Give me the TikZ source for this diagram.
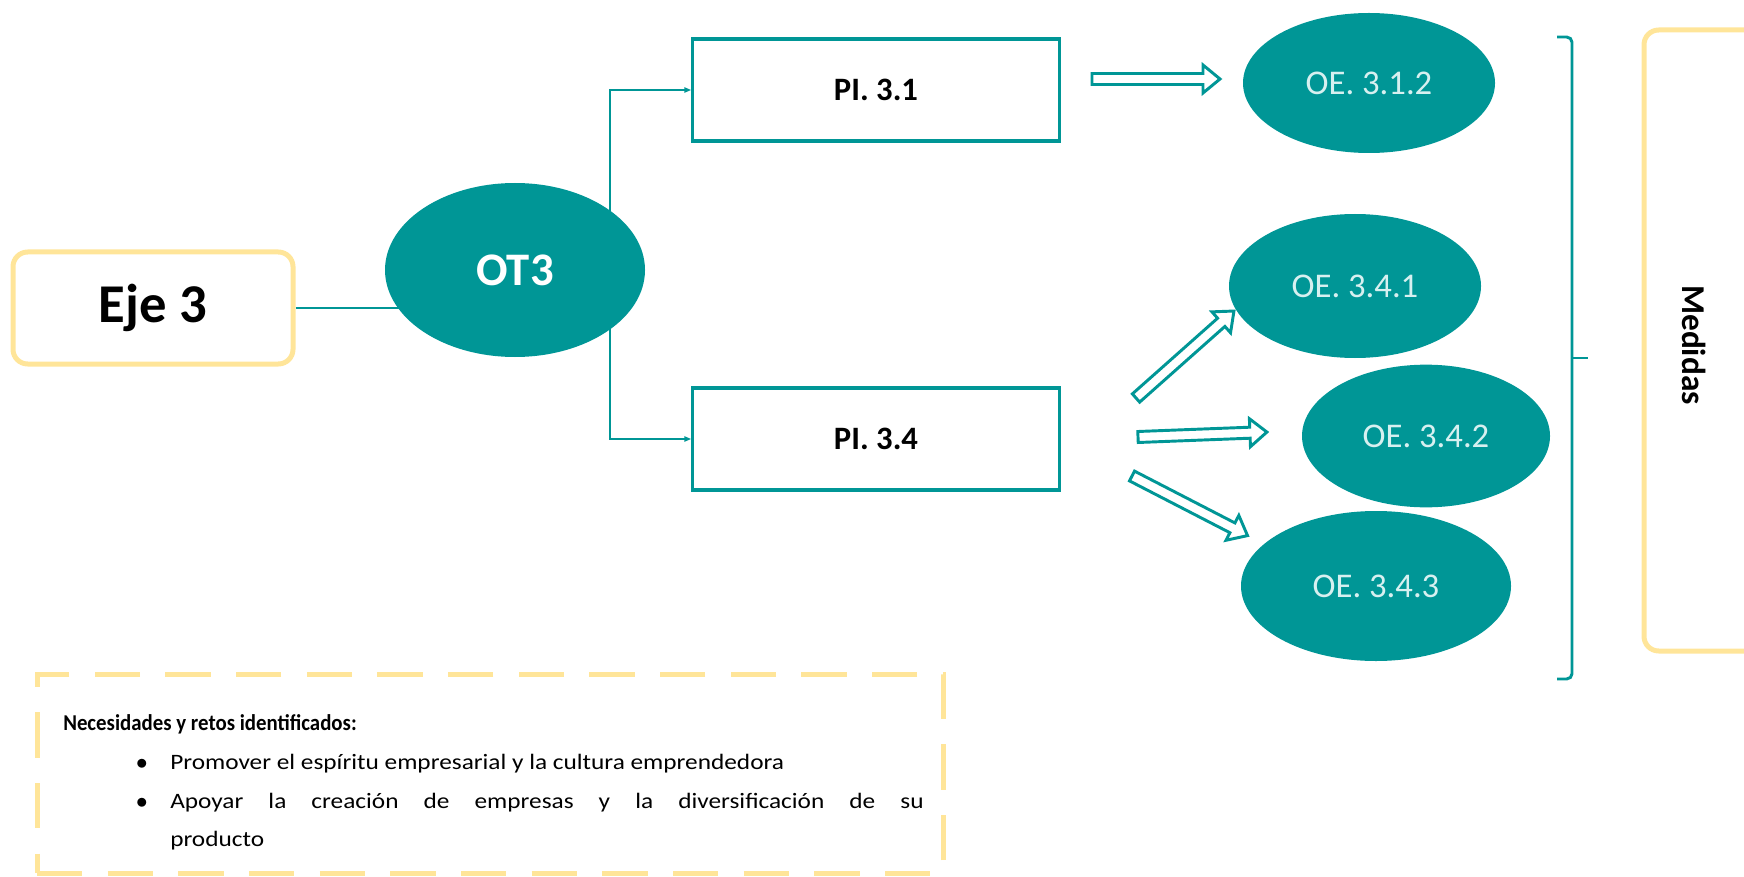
\documentclass[tikz,border=0pt]{standalone}
\usepackage{fontspec}
\setmainfont{Carlito}
\newfontfamily\bodyfont[FakeStretch=1.15]{Carlito}
\newfontfamily\headfont[FakeStretch=0.92]{Carlito}
\usetikzlibrary{arrows.meta,shapes.geometric,calc,backgrounds}
\definecolor{tealc}{RGB}{0,150,150}
\definecolor{yel}{RGB}{255,229,153}
\definecolor{oetext}{RGB}{215,240,240}
\begin{document}
\begin{tikzpicture}[x=0.75pt,y=-0.75pt,
  ybox/.style={draw=yel, line width=3.75pt, rounded corners=11pt},
  pibox/.style={draw=tealc, line width=2.4pt, minimum width=275pt, minimum height=76.5pt, font=\bfseries\fontsize{24.5}{28}\selectfont},
  oe/.style={ellipse, fill=tealc, text=oetext, font=\fontsize{26}{30}\selectfont, inner sep=0pt},
  conn/.style={draw=tealc, line width=0.9pt},
  barrowstyle/.style={draw=tealc, fill=white, line width=2.2pt, line join=miter},
  pics/barrow/.style={code={\draw[barrowstyle] (0,-5.5) -- (#1-17,-5.5) -- (#1-17,-14) -- (#1,0) -- (#1-17,14) -- (#1-17,5.5) -- (0,5.5) -- cycle;}},
  body/.style={inner sep=0pt, font=\bodyfont\fontsize{16.5}{28.5}\selectfont},
]
\useasboundingbox (0,0) rectangle (1744,877);
\clip (0,0) rectangle (1744,877);

% left part
\node[ybox, minimum width=210pt, minimum height=84pt, font=\bfseries\fontsize{41}{46}\selectfont] (eje) at (153,308) {Eje 3};
\node[ellipse, fill=tealc, minimum width=195pt, minimum height=130.5pt, inner sep=0pt, text=white, font=\bfseries\fontsize{35}{40}\selectfont] (ot3) at (515,270) {OT3};

\node[pibox] (pi31) at (876,90) {PI. 3.1};
\node[pibox] (pi34) at (876,439) {PI. 3.4};

\node[oe, minimum width=189pt, minimum height=105pt] (oe312) at (1369,83) {OE. 3.1.2};
\node[oe, minimum width=189pt, minimum height=108pt] (oe341) at (1355,286) {OE. 3.4.1};
\node[oe, minimum width=186pt, minimum height=107pt] (oe342) at (1426,436) {OE. 3.4.2};
\node[oe, minimum width=202.5pt, minimum height=112.5pt] (oe343) at (1376,586) {OE. 3.4.3};

\begin{scope}[on background layer]
\draw[conn] (eje.east) -- (eje.east -| ot3.center);
\draw[conn, -{Triangle[length=5pt,width=4pt]}] ($(ot3.center)+(95,0)$) |- (pi31.west);
\draw[conn, -{Triangle[length=5pt,width=4pt]}] ($(ot3.center)+(95,0)$) |- (pi34.west);
\end{scope}

% block arrows
\coordinate (h0s) at (1092,79);
\coordinate (h1s) at (1136,398);
\coordinate (h2s) at (1138,437);
\coordinate (h3s) at (1132,476);
\pic at (h0s) {barrow=128};
\pic[rotate=41.6] at (h1s) {barrow=131};
\pic[rotate=2.2] at (h2s) {barrow=129};
\pic[rotate=-27.3] at (h3s) {barrow=130};

% brace
\draw[tealc, line width=2.2pt, rounded corners=4pt]
  (1557,37) -- (1572,37) -- (1572,358) -- (1572,679) -- (1557,679);
\draw[tealc, line width=2.2pt] (1572,358) -- (1588,358);

% Medidas box
\node[ybox, minimum width=94.5pt, minimum height=465.75pt] (medbox) at (1707,340.5) {};
\node[rotate=-90, inner sep=0pt, font=\bfseries\fontsize{25}{30}\selectfont] (med) at (1694,345) {Medidas};

% needs box
\node[draw=yel, line width=3.75pt, dash pattern=on 34pt off 19pt, minimum width=679.5pt, minimum height=149.25pt, inner sep=0pt] (needs) at (490,773.5) {};
\node[inner sep=0pt, anchor=base west, font=\headfont\bfseries\fontsize{17}{20}\selectfont] (head) at (63,730) {Necesidades y retos identificados:};
\node[body, anchor=base] (b1) at (142,769) {$\bullet$};
\node[body, anchor=base west] (t1) at (170,769) {Promover el espíritu empresarial y la cultura emprendedora};
\node[body, anchor=base] (b2) at (142,808) {$\bullet$};
\node[body, anchor=base west, text width=565pt, align=justify] (t2) at (170,808) {Apoyar la creación de empresas y la diversificación de su\linebreak producto};
\end{tikzpicture}
\end{document}
